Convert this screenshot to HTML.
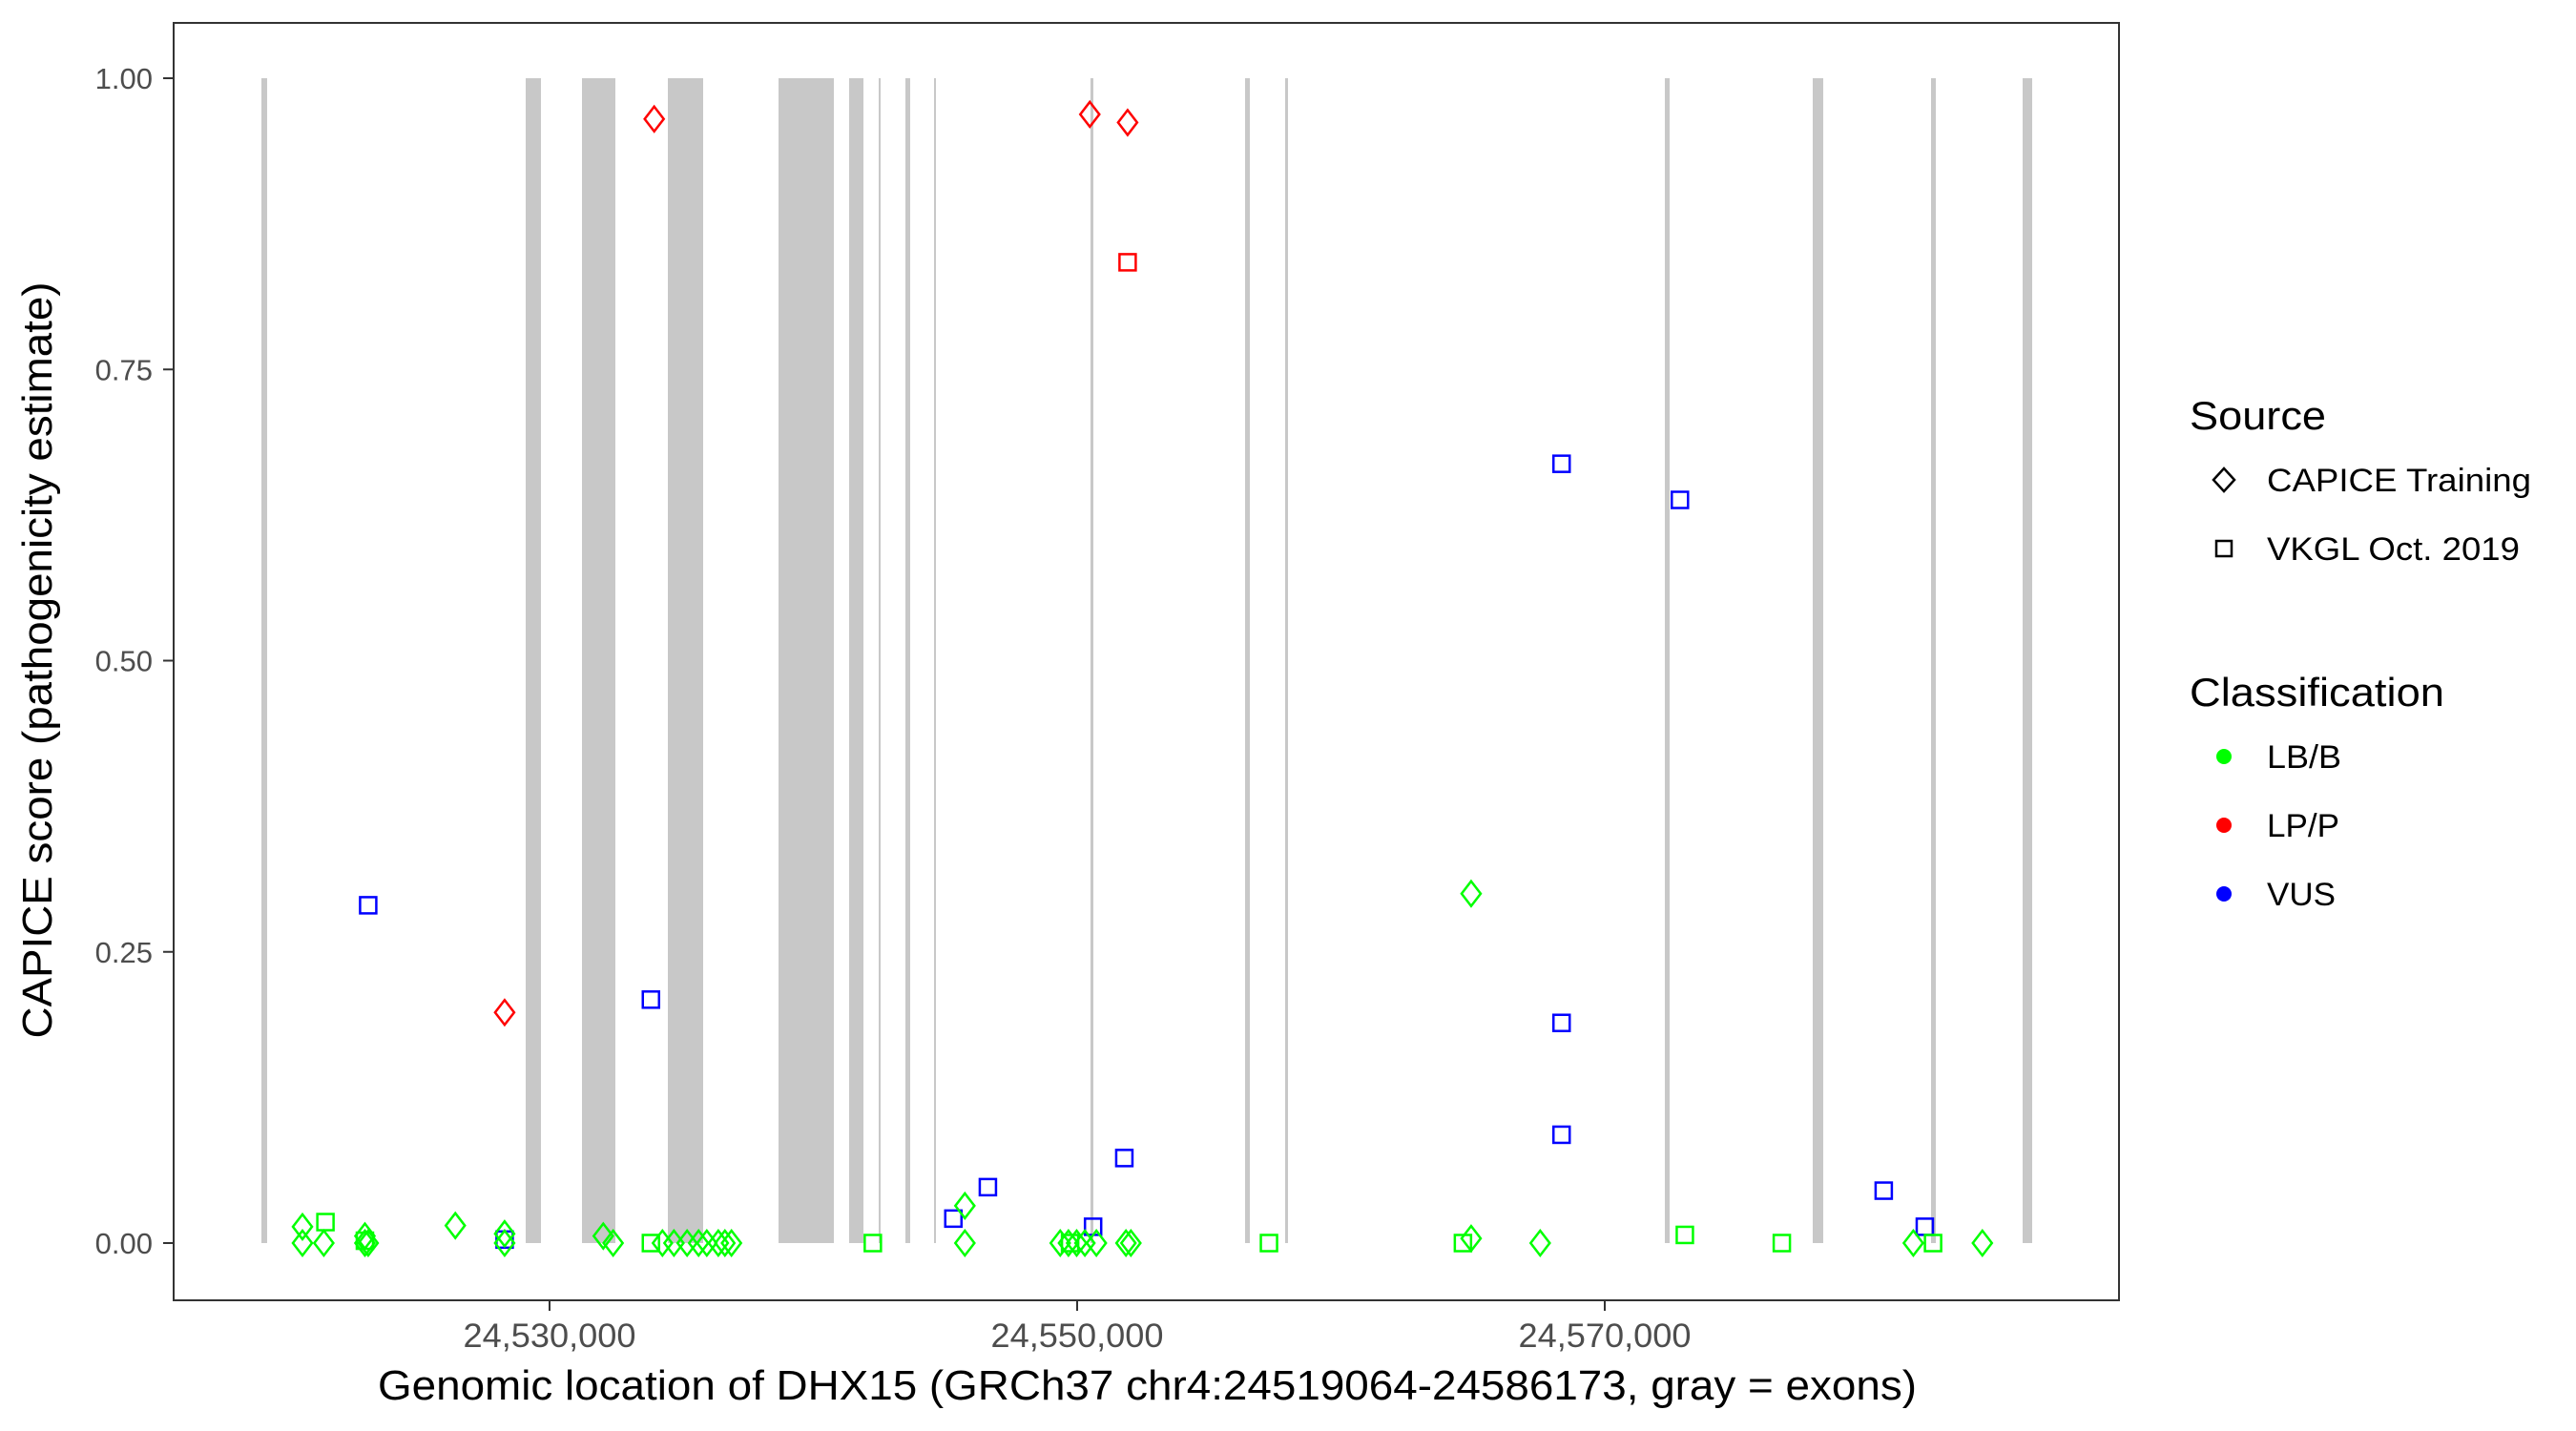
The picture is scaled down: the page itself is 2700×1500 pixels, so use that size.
<!DOCTYPE html>
<html><head><meta charset="utf-8"><style>
html,body{margin:0;padding:0;background:#fff;}
svg{display:block;font-family:"Liberation Sans",Arial,sans-serif;}
</style></head><body>
<svg id="chart" width="2700" height="1500" viewBox="0 0 2700 1500">
<rect x="0" y="0" width="2700" height="1500" fill="#fff"/>
<g id="exons"></g>
<g id="points"></g>
<rect x="182" y="24" width="2039" height="1339" fill="none" stroke="#333" stroke-width="2"/>
<g id="yaxis"></g>
<g id="xaxis"></g>
<text x="396" y="1467" font-size="44" textLength="1613" lengthAdjust="spacingAndGlyphs" fill="#000">Genomic location of DHX15 (GRCh37 chr4:24519064-24586173, gray = exons)</text>
<text transform="translate(54,692) rotate(-90)" font-size="44" text-anchor="middle" textLength="793" lengthAdjust="spacingAndGlyphs" fill="#000">CAPICE score (pathogenicity estimate)</text>
<g>
<text x="2295" y="450" font-size="42" textLength="143" lengthAdjust="spacingAndGlyphs" fill="#000">Source</text>
<path d="M2331,491 L2342,503 L2331,515 L2320,503 Z" fill="none" stroke="#000" stroke-width="2.5"/>
<text x="2376" y="515" font-size="34" textLength="277" lengthAdjust="spacingAndGlyphs" fill="#000">CAPICE Training</text>
<rect x="2323" y="567" width="16" height="16" fill="none" stroke="#000" stroke-width="2.5"/>
<text x="2376" y="587" font-size="34" textLength="265" lengthAdjust="spacingAndGlyphs" fill="#000">VKGL Oct. 2019</text>
<text x="2295" y="740" font-size="42" textLength="267" lengthAdjust="spacingAndGlyphs" fill="#000">Classification</text>
<circle cx="2331" cy="793" r="8" fill="#00ff00"/>
<text x="2376" y="805" font-size="34" textLength="78" lengthAdjust="spacingAndGlyphs" fill="#000">LB/B</text>
<circle cx="2331" cy="865" r="8" fill="#ff0000"/>
<text x="2376" y="877" font-size="34" textLength="76" lengthAdjust="spacingAndGlyphs" fill="#000">LP/P</text>
<circle cx="2331" cy="937" r="8" fill="#0000ff"/>
<text x="2376" y="949" font-size="34" textLength="72" lengthAdjust="spacingAndGlyphs" fill="#000">VUS</text>
</g>
</svg>
<script>
const exonStarts=[24519078,24529096,24531230,24534485,24538680,24541356,24542477,24543490,24544575,24550506,24556365,24557884,24572278,24577884,24582368,24585840];
const exonEnds=[24519295,24529675,24532495,24535823,24540777,24541899,24542550,24543671,24544647,24550615,24556546,24557993,24572459,24578282,24582549,24586202];
const xTicks=[24530000,24550000,24570000];
const xTickLabels=["24,530,000","24,550,000","24,570,000"];
const yTicks=[0,0.25,0.5,0.75,1];
const yTickLabels=["0.00","0.25","0.50","0.75","1.00"];
const sources=["CAPICE","VKGL"];
const classes=["LB/B","LP/P","VUS"];
const varPos=[24533967,24528297,24550480,24551913,
24551913,
24523125,24528297,24533843,24545308,24546616,24550604,24551788,24568363,24572849,24568363,24568363,24580575,24582133,
24520633,24520633,24521443,24523001,24523001,24523125,24526428,24528297,24528297,24532036,24532410,24534279,24534715,24535214,24535650,24535961,24536397,24536647,24536896,24545744,24545744,24549358,24549670,24549981,24550293,24550729,24551850,24552037,24564935,24564935,24567552,24581697,24584314,
24521505,24523001,24533843,24542255,24557271,24564624,24573036,24576712,24582445,24549732];
const varScore=[0.965,0.198,0.969,0.962,
0.842,
0.29,0.003,0.209,0.021,0.048,0.014,0.073,0.669,0.638,0.189,0.093,0.045,0.014,
0.014,0,0,0.006,0,0,0.015,0.008,0,0.006,0,0,0,0,0,0,0,0,0,0.032,0,0,0,0,0,0,0,0,0.3,0.004,0,0,0,
0.018,0.002,0,0,0,0,0.007,0,0,0];
const varSource=[0,0,0,0,
1,
1,1,1,1,1,1,1,1,1,1,1,1,1,
0,0,0,0,0,0,0,0,0,0,0,0,0,0,0,0,0,0,0,0,0,0,0,0,0,0,0,0,0,0,0,0,0,
1,1,1,1,1,1,1,1,1,1];
const varClass=[1,1,1,1,
1,
2,2,2,2,2,2,2,2,2,2,2,2,2,
0,0,0,0,0,0,0,0,0,0,0,0,0,0,0,0,0,0,0,0,0,0,0,0,0,0,0,0,0,0,0,0,0,
0,0,0,0,0,0,0,0,0,0];
const colors=["#00ff00","#ff0000","#0000ff"];
const NS="http://www.w3.org/2000/svg";
function xS(v){return 576+(v-24530000)*0.02765;}
function yS(v){return 1303-v*1221;}
const exG=document.getElementById('exons');
for(let i=0;i<exonStarts.length;i++){
const r=document.createElementNS(NS,'rect');
const x0=xS(exonStarts[i]),x1=xS(exonEnds[i]);
r.setAttribute('x',x0);r.setAttribute('width',Math.max(x1-x0,2));
r.setAttribute('y',yS(1));r.setAttribute('height',yS(0)-yS(1));
r.setAttribute('fill','#c8c8c8');


exG.appendChild(r);}
const pG=document.getElementById('points');
for(let i=0;i<varPos.length;i++){
const cx=xS(varPos[i]),cy=yS(varScore[i]);let el;
if(varSource[i]===0){el=document.createElementNS(NS,'path');
el.setAttribute('d',`M${cx},${cy-13} L${cx+10},${cy} L${cx},${cy+13} L${cx-10},${cy} Z`);}
else{el=document.createElementNS(NS,'rect');
el.setAttribute('x',cx-8.5);el.setAttribute('y',cy-8.5);el.setAttribute('width',17);el.setAttribute('height',17);}
el.setAttribute('fill','none');el.setAttribute('stroke',colors[varClass[i]]);el.setAttribute('stroke-width','2.5');


pG.appendChild(el);}
const yG=document.getElementById('yaxis');
for(let i=0;i<yTicks.length;i++){const y=yS(yTicks[i]);
const l=document.createElementNS(NS,'line');l.setAttribute('x1',171);l.setAttribute('x2',182);l.setAttribute('y1',y);l.setAttribute('y2',y);l.setAttribute('stroke','#333');l.setAttribute('stroke-width','2');


yG.appendChild(l);
const t=document.createElementNS(NS,'text');t.setAttribute('x',160);t.setAttribute('y',y+11);t.setAttribute('text-anchor','end');t.setAttribute('font-size','31');t.setAttribute('fill','#4d4d4d');t.textContent=yTickLabels[i];


yG.appendChild(t);}
const xG=document.getElementById('xaxis');
for(let i=0;i<xTicks.length;i++){const x=xS(xTicks[i]);
const l=document.createElementNS(NS,'line');l.setAttribute('x1',x);l.setAttribute('x2',x);l.setAttribute('y1',1363);l.setAttribute('y2',1374);l.setAttribute('stroke','#333');l.setAttribute('stroke-width','2');


xG.appendChild(l);
const t=document.createElementNS(NS,'text');t.setAttribute('x',x);t.setAttribute('y',1412);t.setAttribute('text-anchor','middle');t.setAttribute('font-size','35');t.setAttribute('textLength','181');t.setAttribute('lengthAdjust','spacingAndGlyphs');t.setAttribute('fill','#4d4d4d');t.textContent=xTickLabels[i];


xG.appendChild(t);}
</script>
</body></html>
